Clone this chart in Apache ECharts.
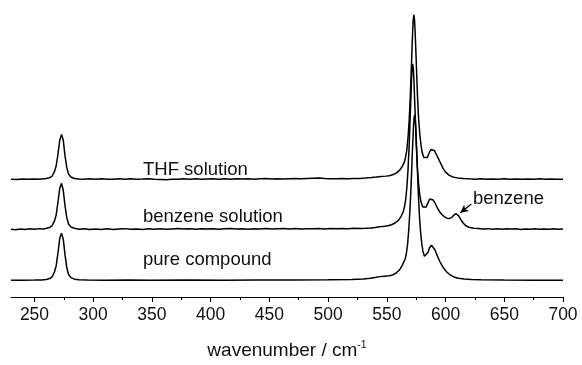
<!DOCTYPE html>
<html>
<head>
<meta charset="utf-8">
<script src="https://cdn.jsdelivr.net/npm/echarts@6/dist/echarts.min.js"></script>
<style>
  html, body { margin: 0; padding: 0; background: #fff; }
  #chart { width: 582px; height: 365px; }
</style>
</head>
<body>
<div id="chart"></div>
<script>
// Spectra: [wavenumber, intensity above own baseline]
var thfSolution = [
  [230,0.3],[235,0.0],[240,0.4],[245,0.1],[250,0.5],[254,0.3],[258,0.8],
  [260,1.0],[263,1.8],[265,3.5],[267,8],[268.5,14],[270,26],[271.5,40],[273,46],[274.5,40],[276,24],[277.5,12],[279,5.5],[281,2.5],[284,1.0],[288,0.4],
  [292,0.1],[297,0.6],[302,0.2],[307,0.7],[312,0.3],[317,0.1],[322,0.6],[327,0.3],[332,0.6],[337,0.1],[342,0.4],[347,0.8],[352,0.3],[357,0.0],[362,-0.3],[367,0.3],[372,0.1],[377,0.6],[382,0.3],[387,0.7],[392,0.2],[397,0.5],[402,0.7],[407,0.3],[412,0.6],[417,0.2],[422,0.7],[427,0.4],[432,0.8],[437,0.3],[442,0.6],[447,0.9],[452,0.5],[457,0.8],[462,0.4],[467,0.7],[472,1.0],[477,0.6],[482,0.9],[487,1.2],[492,1.4],[497,1.0],[502,0.8],[507,0.6],[512,0.9],[517,0.7],[522,0.9],[527,1.1],[532,1.4],[537,1.9],
  [541,2.4],[545,3.0],[549,3.4],[552,3.8],[555,4.8],[558,6.5],[561,9.5],[563,13],[565,18],[566,23],[567,30],[568,42],[569,60],[570,85],[571,118],[572,152],[572.5,163],[573,168],[573.5,164],[574,153],[575,122],[576,88],[577,63],[578,47],[579,36],[580,28],[581.5,22.5],[583,20.5],[584.5,22.5],[586,27],[587.5,30.5],[589,31],[590.5,29.5],[592,26],[594,21],[596,16],[598,11],[600,7.5],[603,4.5],[606,2.6],[610,1.6],
  [615,1.0],[620,0.6],[625,0.3],[630,0.6],[635,0.2],[640,0.5],[645,0.2],[650,0.6],[655,0.2],[660,0.5],[665,0.1],[670,0.4],[675,0.2],[680,0.6],[685,0.3],[690,0.5],[695,0.2],[700,0.3]
];
var benzeneSolution = [
  [230,0.2],[234,-0.3],[238,0.4],[242,0.0],[246,0.6],[250,0.2],[254,0.8],[258,0.5],
  [260,1.2],[263,2.0],[265,3.8],[267,8.5],[268.5,15],[270,28],[271.5,42],[273,47],[274.5,40],[276,24],[277.5,12],[279,5.5],[281,2.5],[284,1.2],[288,0.2],
  [292,0.7],[297,-0.2],[302,0.5],[307,0.0],[312,0.6],[317,-0.1],[322,0.4],[327,0.8],[332,0.1],[337,0.5],[342,-0.1],[347,0.6],[352,0.2],[357,0.7],[362,0.1],[367,0.5],[372,0.9],[377,0.3],[382,0.6],[387,0.1],[392,0.7],[397,0.3],[402,0.8],[407,0.2],[412,0.6],[417,0.9],[422,0.3],[427,0.7],[432,0.2],[437,0.8],[442,0.4],[447,0.9],[452,0.3],[457,0.7],[462,1.0],[467,0.5],[472,0.9],[477,0.4],[482,0.8],[487,0.6],[492,1.0],[497,0.5],[502,0.9],[507,0.6],[512,1.0],[517,0.7],[522,1.1],[527,0.9],[532,1.2],
  [536,1.5],[540,2.0],[544,2.6],[548,3.2],[551,3.8],[554,4.8],[557,6.5],[560,9.5],[562,13],[564,18],[565,23],[566,30],[567,42],[568,60],[569,85],[570,118],[571,153],[571.5,164],[572,169],[572.5,165],[573,154],[574,122],[575,88],[576,63],[577,47],[578,36],[579,28.5],[580.5,23],[582,21],[583.5,23],[585,27],[586.5,31],[588,32],[589.5,30],[591,27],[593,22],[595,18],[597,15],[599,13],[601,11.5],[603,11],[605,12],[607,14.5],[609,16],[611,14],[613,10],[615,6.5],[617,4],[620,2.2],[624,1.2],
  [628,0.9],[632,0.4],[636,0.8],[640,0.2],[644,0.6],[648,0.1],[652,0.7],[656,0.3],[660,0.6],[664,0.0],[668,0.5],[672,0.2],[676,0.7],[680,0.1],[684,0.5],[688,0.2],[692,0.6],[696,0.1],[700,0.4]
];
var pureCompound = [
  [230,0.2],[240,0.2],[250,0.3],[256,0.4],
  [260,0.9],[263,1.8],[265,3.6],[267,8.5],[268.5,15],[270,28],[271.5,43],[273,48],[274.5,42],[276,26],[277.5,13],[279,6],[281,2.8],[284,1.2],[288,0.5],
  [295,0.3],[310,0.2],[330,0.3],[350,0.2],[380,0.3],[410,0.2],[440,0.3],[470,0.3],[500,0.5],[520,0.9],[530,1.4],
  [536,2.2],[540,3.0],[544,3.8],[548,4.2],[552,4.6],[555,5.5],[558,7.5],[561,11],[563,15],[565.7,22],[566.7,28],[567.7,37],[568.7,52],[569.7,72],[570.7,98],[571.7,130],[572.7,157],[573.2,166],[573.7,169],[574.2,165],[574.7,155],[575.7,125],[576.7,92],[577.7,67],[578.7,50],[579.7,38],[580.7,30],[582,24.5],[583.5,24.5],[585,28.5],[586.5,33.5],[588,36],[589.5,34.5],[591,31],[593,25],[595,19.5],[597,15],[599,11.5],[601,8.5],[604,5.5],[607,3.5],[611,2.2],[616,1.3],[622,0.8],
  [630,0.5],[650,0.3],[675,0.2],[700,0.2]
];
// vertical stacking of the three traces
var offsetPure = 17;
var offsetBenzene = 69;
var offsetThf = 120;

var majorTicks = [250, 300, 350, 400, 450, 500, 550, 600, 650, 700];
var minorTicks = [275, 325, 375, 425, 475, 525, 575, 625, 675];

function shift(arr, off) {
  return arr.map(function (p) { return [p[0], p[1] + off]; });
}

var chart = echarts.init(document.getElementById('chart'));
var font = '"Liberation Sans", Arial, sans-serif';
var lineStyle = { color: '#000', width: 1.5 };
var labelFont = '18.5px ' + font;

var option = {
  animation: false,
  grid: { left: 11, right: 19, top: 10, bottom: 62 },
  xAxis: [
    {
      type: 'value', min: 230, max: 700,
      axisLine: { lineStyle: { color: '#000', width: 1.2 } },
      axisTick: { customValues: majorTicks, length: 5, lineStyle: { color: '#000', width: 1.1 } },
      axisLabel: { customValues: majorTicks, color: '#111', fontSize: 17.5, fontFamily: font, margin: 9 },
      splitLine: { show: false },
      name: '{a|wavenumber / cm}{b|-1}',
      nameLocation: 'middle',
      nameGap: 43,
      nameTextStyle: {
        rich: {
          a: { fontSize: 19, fontFamily: font, color: '#111', lineHeight: 21 },
          b: { fontSize: 10.5, fontFamily: font, color: '#111', verticalAlign: 'top', lineHeight: 21 }
        }
      }
    },
    {
      type: 'value', min: 230, max: 700, position: 'bottom',
      axisLine: { show: false },
      axisTick: { customValues: minorTicks, length: 3, lineStyle: { color: '#000', width: 1.1 } },
      axisLabel: { show: false },
      splitLine: { show: false }
    }
  ],
  yAxis: { type: 'value', min: 0, max: 293, show: false },
  series: [
    { type: 'line', name: 'pure compound', data: shift(pureCompound, offsetPure), showSymbol: false, lineStyle: lineStyle },
    { type: 'line', name: 'benzene solution', data: shift(benzeneSolution, offsetBenzene), showSymbol: false, lineStyle: lineStyle,
      markLine: {
        silent: true, symbol: ['none', 'arrow'], symbolSize: [6, 8],
        label: { show: false },
        lineStyle: { color: '#000', width: 1.2, type: 'solid' },
        data: [[{ coord: [622, 95] }, { coord: [612.6, 86] }]]
      }
    },
    { type: 'line', name: 'THF solution', data: shift(thfSolution, offsetThf), showSymbol: false, lineStyle: lineStyle }
  ],
  graphic: [
    { type: 'text', x: 143, y: 169.5, style: { text: 'THF solution', font: labelFont, fill: '#111', verticalAlign: 'middle' } },
    { type: 'text', x: 143, y: 217, style: { text: 'benzene solution', font: labelFont, fill: '#111', verticalAlign: 'middle' } },
    { type: 'text', x: 143, y: 260, style: { text: 'pure compound', font: labelFont, fill: '#111', verticalAlign: 'middle' } },
    { type: 'text', x: 473, y: 198.5, style: { text: 'benzene', font: labelFont, fill: '#111', verticalAlign: 'middle' } }
  ]
};
chart.setOption(option);
</script>
</body>
</html>
